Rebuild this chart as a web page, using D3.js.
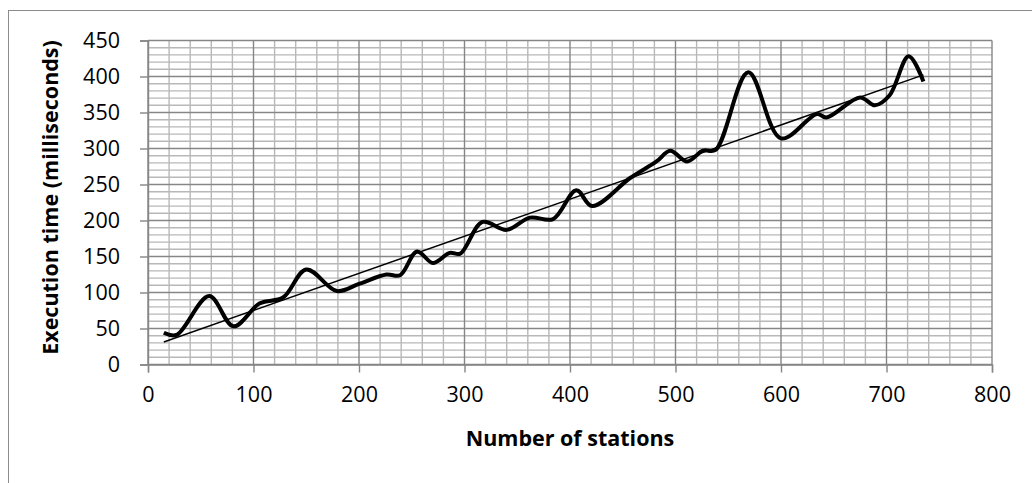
<!DOCTYPE html>
<html>
<head>
<meta charset="utf-8">
<script src="https://cdn.jsdelivr.net/npm/d3@7"></script>
<style>
  html, body { margin: 0; padding: 0; background: #fff; }
  svg { display: block; }
  text { font-family: "Open Sans", "Liberation Sans", sans-serif; fill: #000; }
</style>
</head>
<body>
<svg id="chart" width="1032" height="483"></svg>
<script>
// ---- data ----
const stations = [15, 27, 58, 81, 106, 128, 150, 179, 200, 226, 239, 255, 270, 286, 296, 317, 340, 362, 384, 406, 421, 457, 482, 495, 511, 526, 538, 569, 600, 634, 643, 675, 689, 703, 721, 735];
const execTime = [44, 41, 95, 53, 85, 93, 132, 102, 112, 125, 124, 157, 141, 155, 154, 198, 187, 204, 202, 242, 220, 259, 282, 297, 282, 297, 298, 406, 314, 348, 343, 371, 360, 374, 428, 393];
const xTicks = [0, 100, 200, 300, 400, 500, 600, 700, 800];
const yTicks = [0, 50, 100, 150, 200, 250, 300, 350, 400, 450];
const xTitle = "Number of stations";
const yTitle = "Execution time (milliseconds)";

const svg = d3.select("#chart");
const pLeft = 148, pRight = 992, pTop = 40.5, pBottom = 364.5;

const x = d3.scaleLinear().domain([0, 800]).range([pLeft, pRight]);
const y = d3.scaleLinear().domain([0, 450]).range([pBottom, pTop]);

// outer chart border (only left/top visible)
svg.append("rect").attr("x", 8.5).attr("y", 10.5).attr("width", 1100).attr("height", 600)
  .attr("fill", "none").attr("stroke", "#8c8c8c").attr("stroke-width", 1);

// minor gridlines
const g = svg.append("g");
g.selectAll(".vminor").data(d3.range(0, 801, 20).filter(v => v % 100 !== 0)).join("line")
  .attr("x1", d => x(d)).attr("x2", d => x(d)).attr("y1", pTop).attr("y2", pBottom)
  .attr("stroke", "#b8b8b8").attr("stroke-width", 1.4);
g.selectAll(".hminor").data(d3.range(0, 451, 10).filter(v => v % 50 !== 0)).join("line")
  .attr("x1", pLeft).attr("x2", pRight).attr("y1", d => y(d)).attr("y2", d => y(d))
  .attr("stroke", "#b8b8b8").attr("stroke-width", 1.4);
// major gridlines
g.selectAll(".vmajor").data(xTicks).join("line")
  .attr("x1", d => x(d)).attr("x2", d => x(d)).attr("y1", pTop).attr("y2", pBottom)
  .attr("stroke", "#868686").attr("stroke-width", 1.4);
g.selectAll(".hmajor").data(yTicks).join("line")
  .attr("x1", pLeft).attr("x2", pRight).attr("y1", d => y(d)).attr("y2", d => y(d))
  .attr("stroke", "#868686").attr("stroke-width", 1.4);

// axes
const xAxis = svg.append("g").attr("transform", `translate(0,${pBottom})`)
  .call(d3.axisBottom(x).tickValues(xTicks).tickSize(8).tickPadding(14).tickFormat(d3.format("d")));
xAxis.select(".domain").attr("stroke", "#868686").attr("stroke-width", 1.4);
xAxis.selectAll(".tick line").attr("stroke", "#868686").attr("stroke-width", 1.4);
xAxis.selectAll(".tick text").style("font-size", "21.5px").attr("font-family", null);

const yAxis = svg.append("g").attr("transform", `translate(${pLeft},0)`)
  .call(d3.axisLeft(y).tickValues(yTicks).tickSize(8).tickPadding(20).tickFormat(d3.format("d")));
yAxis.select(".domain").attr("stroke", "#868686").attr("stroke-width", 1.4);
yAxis.selectAll(".tick line").attr("stroke", "#868686").attr("stroke-width", 1.4);
yAxis.selectAll(".tick text").style("font-size", "21.5px").attr("font-family", null);
svg.selectAll(".tick text").style("fill", "#000");

// data line (smoothed)
const pts = stations.map((s, i) => [s, execTime[i]]);
const line = d3.line().x(d => x(d[0])).y(d => y(d[1])).curve(d3.curveCatmullRom.alpha(0.5));
svg.append("path").datum(pts).attr("d", line)
  .attr("fill", "none").attr("stroke", "#000").attr("stroke-width", 4).attr("stroke-linejoin", "round");

// linear trendline (least squares)
const mx = d3.mean(stations), my = d3.mean(execTime);
const slope = d3.sum(stations, (s, i) => (s - mx) * (execTime[i] - my)) / d3.sum(stations, s => (s - mx) * (s - mx));
const icpt = my - slope * mx;
const ext = d3.extent(stations);
svg.append("line")
  .attr("x1", x(ext[0])).attr("y1", y(icpt + slope * ext[0]))
  .attr("x2", x(ext[1])).attr("y2", y(icpt + slope * ext[1]))
  .attr("stroke", "#000").attr("stroke-width", 1.5);

// titles
svg.append("text").attr("x", (pLeft + pRight) / 2).attr("y", 446)
  .attr("text-anchor", "middle").style("font-size", "21.5px").style("font-weight", "bold").text(xTitle);
svg.append("text").attr("transform", `translate(58,${(pTop + pBottom) / 2 - 5}) rotate(-90)`)
  .attr("text-anchor", "middle").style("font-size", "21.5px").style("font-weight", "bold").text(yTitle);
</script>
</body>
</html>
